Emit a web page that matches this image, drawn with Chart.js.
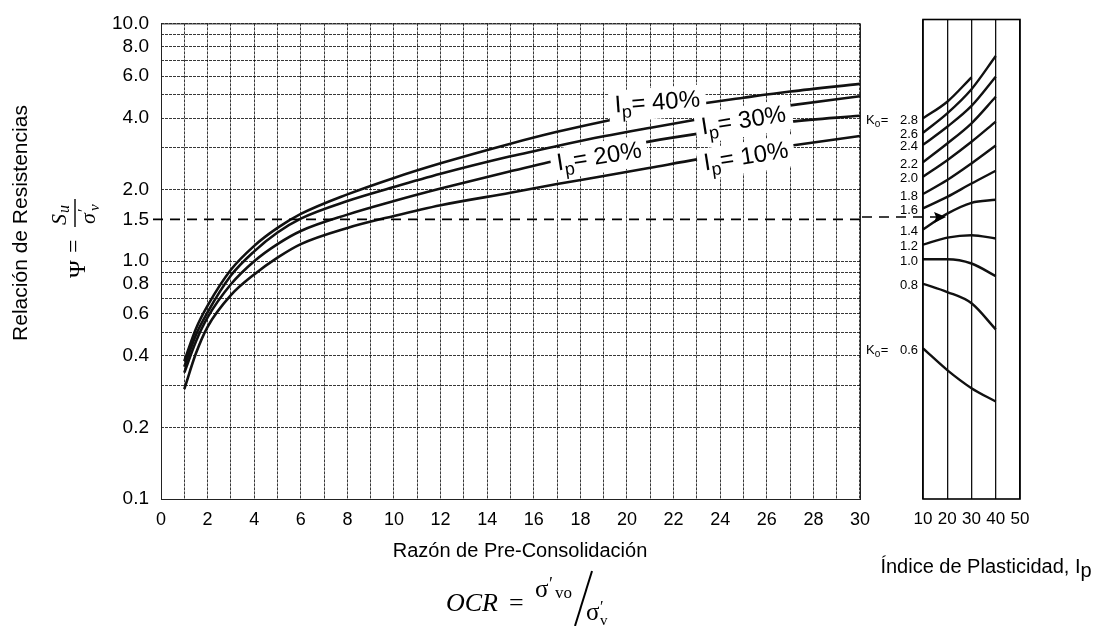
<!DOCTYPE html>
<html>
<head>
<meta charset="utf-8">
<title>Relación de Resistencias vs OCR</title>
<script src="https://cdn.jsdelivr.net/npm/chart.js@4.4.1/dist/chart.umd.min.js"></script>
<style>
  html, body { margin: 0; padding: 0; background: #fff; }
  #wrap { position: relative; width: 1109px; height: 626px; overflow: hidden; }
  #main { position: absolute; left: 0; top: 0; }
  #side { position: absolute; left: 862px; top: 0; }
</style>
</head>
<body>
<div id="wrap">
  <canvas id="main" width="880" height="626" style="width:880px;height:626px"></canvas>
  <canvas id="side" width="247" height="626" style="width:247px;height:626px"></canvas>
</div>
<script>
// --- main panel: Su/σ'v against OCR for four plasticity indices
const ocr = [1, 1.5, 2, 3, 4, 5, 6, 8, 10, 12, 15, 17, 19, 21, 23, 25, 27, 30];
const psiIp40 = [0.38, 0.52, 0.65, 0.92, 1.16, 1.38, 1.58, 1.91, 2.24, 2.58, 3.12, 3.50, 3.87, 4.24, 4.57, 4.87, 5.17, 5.57];
const psiIp30 = [0.36, 0.49, 0.61, 0.87, 1.10, 1.32, 1.51, 1.79, 2.05, 2.33, 2.76, 3.05, 3.35, 3.64, 3.94, 4.23, 4.52, 4.94];
const psiIp20 = [0.34, 0.46, 0.58, 0.80, 1.00, 1.18, 1.34, 1.57, 1.79, 2.02, 2.39, 2.66, 2.93, 3.19, 3.43, 3.66, 3.86, 4.09];
const psiIp10 = [0.29, 0.41, 0.53, 0.72, 0.88, 1.035, 1.18, 1.38, 1.55, 1.72, 1.94, 2.11, 2.28, 2.47, 2.68, 2.87, 3.06, 3.36];
const ipCurveNames = ['= 40%', '= 30%', '= 20%', '= 10%'];

const xTickLabels = [0, 2, 4, 6, 8, 10, 12, 14, 16, 18, 20, 22, 24, 26, 28, 30];
const yGridValues = [0.1, 0.2, 0.3, 0.4, 0.5, 0.6, 0.7, 0.8, 0.9, 1, 1.5, 2, 3, 4, 5, 6, 7, 8, 9, 10];
const yLabelValues = [0.1, 0.2, 0.4, 0.6, 0.8, 1, 1.5, 2, 4, 6, 8, 10];

// reference example (dashed line + arrow)
const refPsi = 1.5;
const refIp = 19.5;

// --- side panel: Ko curves against plasticity index
const ipValues = [10, 20, 30, 40];
const ko28 = [3.87, 4.54, 5.74];
const ko26 = [3.37, 4.06, 5.12, 7.04];
const ko24 = [3.00, 3.57, 4.36, 5.77];
const ko22 = [2.54, 3.04, 3.69, 4.76];
const ko20 = [2.21, 2.59, 3.09, 3.75];
const ko18 = [1.87, 2.14, 2.51, 2.98];
const ko16 = [1.63, 1.82, 2.07, 2.34];
const ko14 = [1.33, 1.55, 1.72, 1.77];
const ko12 = [1.15, 1.23, 1.26, 1.22];
const ko10 = [1.00, 1.00, 0.96, 0.85];
const ko08 = [0.79, 0.73, 0.655, 0.51];
const ko06 = [0.425, 0.345, 0.29, 0.255];
const koLabels = ['2.8', '2.6', '2.4', '2.2', '2.0', '1.8', '1.6', '1.4', '1.2', '1.0', '0.8', '0.6'];
const ipTickLabels = [10, 20, 30, 40, 50];

const SANS = '"Liberation Sans", Arial, sans-serif';
const SERIF = '"Liberation Serif", "DejaVu Serif", serif';

// where the "Ip = xx%" tags sit on their curves (data coords) and their tilt
const tagPlace = [
  { x: 21.3, y: 4.69, deg: -4 },
  { x: 25.0, y: 3.93, deg: -9 },
  { x: 18.8, y: 2.77, deg: -9 },
  { x: 25.1, y: 2.77, deg: -9 }
];

const curveStyle = {
  borderColor: '#111',
  borderWidth: 2.6,
  pointRadius: 0,
  fill: false,
  cubicInterpolationMode: 'monotone'
};

function drawIpTag(ctx, px, py, deg, rest) {
  ctx.save();
  ctx.translate(px, py);
  ctx.rotate(deg * Math.PI / 180);
  const big = '24px ' + SANS, small = '18px ' + SANS;
  ctx.font = big;
  const wI = ctx.measureText('I').width;
  const wRest = ctx.measureText(rest).width;
  ctx.font = small;
  const wp = ctx.measureText('p').width;
  const w = wI + wp + wRest;
  ctx.fillStyle = '#fff';
  ctx.fillRect(-w / 2 - 6, -14, w + 12, 31);
  ctx.fillStyle = '#000';
  ctx.textAlign = 'left';
  ctx.textBaseline = 'alphabetic';
  let cx = -w / 2;
  ctx.font = big; ctx.fillText('I', cx, 8); cx += wI;
  ctx.font = small; ctx.fillText('p', cx, 14); cx += wp;
  ctx.font = big; ctx.fillText(rest, cx, 8);
  ctx.restore();
}

const mainDecor = {
  id: 'mainDecor',
  afterDatasetsDraw(chart) {
    const { ctx, chartArea: a, scales: { x, y } } = chart;
    ctx.save();
    ctx.strokeStyle = '#222';
    ctx.lineWidth = 1;
    ctx.strokeRect(a.left + 0.5, a.top + 0.5, a.right - a.left, a.bottom - a.top);

    const yy = y.getPixelForValue(refPsi);
    ctx.strokeStyle = '#000';
    ctx.lineWidth = 1.6;
    ctx.setLineDash([10, 7]);
    ctx.beginPath();
    ctx.moveTo(a.left - 8, yy);
    ctx.lineTo(a.right, yy);
    ctx.stroke();
    ctx.setLineDash([]);

    tagPlace.forEach((t, i) => {
      drawIpTag(ctx, x.getPixelForValue(t.x), y.getPixelForValue(t.y), t.deg, ipCurveNames[i]);
    });
    ctx.restore();
  },
  afterDraw(chart) {
    const { ctx } = chart;
    ctx.save();
    ctx.fillStyle = '#000';

    // y title
    ctx.save();
    ctx.translate(21, 223);
    ctx.rotate(-Math.PI / 2);
    ctx.font = '21px ' + SANS;
    ctx.textAlign = 'center';
    ctx.textBaseline = 'middle';
    ctx.fillText('Relación de Resistencias', 0, 0);
    ctx.restore();

    // Ψ = Su / σ'v (rotated)
    ctx.save();
    ctx.translate(75, 240);
    ctx.rotate(-Math.PI / 2);
    ctx.textAlign = 'left';
    ctx.textBaseline = 'alphabetic';
    ctx.font = '24px ' + SERIF;
    ctx.fillText('Ψ', -38, 10);
    ctx.fillText('=', -13, 6);
    ctx.fillRect(13, -0.7, 28, 1.4);
    ctx.font = 'italic 22px ' + SERIF;
    ctx.fillText('S', 15, -9);
    ctx.font = 'italic 16px ' + SERIF;
    ctx.fillText('u', 27, -6);
    ctx.font = 'italic 22px ' + SERIF;
    ctx.fillText('σ', 16, 20);
    ctx.font = '16px ' + SERIF;
    ctx.fillText('′', 28, 14);
    ctx.font = 'italic 15px ' + SERIF;
    ctx.fillText('v', 29, 24);
    ctx.restore();

    // x title
    ctx.font = '20px ' + SANS;
    ctx.textAlign = 'center';
    ctx.textBaseline = 'middle';
    ctx.fillText('Razón de Pre-Consolidación', 520, 551);

    // OCR = σ'vo / σ'v
    const ox = 446;
    ctx.textAlign = 'left';
    ctx.textBaseline = 'alphabetic';
    ctx.font = 'italic 26px ' + SERIF;
    ctx.fillText('OCR', ox, 611);
    ctx.font = '26px ' + SERIF;
    ctx.fillText('=', ox + 63, 611);
    ctx.font = '25px ' + SERIF;
    ctx.fillText('σ', ox + 89, 597);
    ctx.font = '18px ' + SERIF;
    ctx.fillText('′', ox + 103, 590);
    ctx.font = '17px ' + SERIF;
    ctx.fillText('vo', ox + 109, 598);
    ctx.lineWidth = 2;
    ctx.beginPath();
    ctx.moveTo(ox + 146, 571);
    ctx.lineTo(ox + 129, 626);
    ctx.stroke();
    ctx.font = '25px ' + SERIF;
    ctx.fillText('σ', ox + 140, 620);
    ctx.font = '16px ' + SERIF;
    ctx.fillText('′', ox + 154, 612);
    ctx.font = '15px ' + SERIF;
    ctx.fillText('v', ox + 154, 625);
    ctx.restore();
  }
};

new Chart(document.getElementById('main'), {
  type: 'line',
  data: {
    datasets: [psiIp40, psiIp30, psiIp20, psiIp10].map(arr => ({
      ...curveStyle,
      data: ocr.map((v, i) => ({ x: v, y: arr[i] }))
    }))
  },
  options: {
    responsive: false,
    animation: false,
    layout: { padding: { top: 19.5, right: 19, left: 0, bottom: 0 } },
    plugins: { legend: { display: false }, tooltip: { enabled: false } },
    scales: {
      x: {
        type: 'linear',
        min: 0,
        max: 30,
        ticks: {
          stepSize: 1,
          autoSkip: false,
          maxRotation: 0,
          padding: 10,
          color: '#000',
          font: { family: SANS, size: 18 },
          callback: v => (xTickLabels.includes(v) ? String(v) : '')
        },
        grid: { color: 'rgba(0,0,0,0.78)', lineWidth: 1, drawTicks: false },
        border: { display: false, dash: [3, 1] },
        afterFit: s => { s.height = 127; }
      },
      y: {
        type: 'logarithmic',
        min: 0.1,
        max: 10,
        afterBuildTicks: s => { s.ticks = yGridValues.map(v => ({ value: v })); },
        ticks: {
          autoSkip: false,
          padding: 12,
          color: '#000',
          font: { family: SANS, size: 19 },
          callback: v => (yLabelValues.includes(v) ? v.toFixed(1) : '')
        },
        grid: {
          color: c => (c.tick && c.tick.value === refPsi ? 'rgba(0,0,0,0)' : 'rgba(0,0,0,0.78)'),
          lineWidth: 1,
          drawTicks: false
        },
        border: { display: false, dash: [3, 1] },
        afterFit: s => { s.width = 161; }
      }
    }
  },
  plugins: [mainDecor]
});

// --- side panel
const koSeries = [ko28, ko26, ko24, ko22, ko20, ko18, ko16, ko14, ko12, ko10, ko08, ko06];

function drawKoEq(ctx, px, py) {
  ctx.textAlign = 'left';
  ctx.textBaseline = 'middle';
  ctx.font = '13px ' + SANS;
  ctx.fillText('K', px, py);
  const wK = ctx.measureText('K').width;
  ctx.font = '10px ' + SANS;
  ctx.fillText('o', px + wK, py + 4);
  ctx.font = '13px ' + SANS;
  ctx.fillText('=', px + wK + 6, py);
}

const sideDecor = {
  id: 'sideDecor',
  afterDatasetsDraw(chart) {
    const { ctx, chartArea: a, scales: { x, y } } = chart;
    ctx.save();
    ctx.strokeStyle = '#000';
    ctx.lineWidth = 1.6;
    ctx.strokeRect(a.left, a.top, a.right - a.left, a.bottom - a.top);

    // dashed reference line coming from the main panel, with arrow
    const yy = y.getPixelForValue(refPsi);
    const tip = x.getPixelForValue(refIp);
    ctx.lineWidth = 1.6;
    ctx.setLineDash([10, 7]);
    ctx.beginPath();
    ctx.moveTo(0, yy);
    ctx.lineTo(tip - 8, yy);
    ctx.stroke();
    ctx.setLineDash([]);
    ctx.fillStyle = '#000';
    ctx.beginPath();
    ctx.moveTo(tip, yy);
    ctx.lineTo(tip - 12, yy - 5);
    ctx.lineTo(tip - 10, yy);
    ctx.lineTo(tip - 12, yy + 6);
    ctx.closePath();
    ctx.fill();

    // Ko labels
    const x0 = x.getPixelForValue(ipValues[0]);
    ctx.font = '13px ' + SANS;
    ctx.textAlign = 'right';
    ctx.textBaseline = 'middle';
    koLabels.forEach((lab, i) => {
      ctx.fillText(lab, x0 - 5, y.getPixelForValue(koSeries[i][0]) + 2);
    });
    drawKoEq(ctx, 4, y.getPixelForValue(koSeries[0][0]) + 2);
    drawKoEq(ctx, 4, y.getPixelForValue(koSeries[koSeries.length - 1][0]) + 2);
    ctx.restore();
  },
  afterDraw(chart) {
    const { ctx } = chart;
    ctx.save();
    ctx.fillStyle = '#000';
    ctx.font = '20px ' + SANS;
    ctx.textBaseline = 'middle';
    ctx.textAlign = 'left';
    const main = 'Índice de Plasticidad, I';
    const w = ctx.measureText(main).width + ctx.measureText('p').width;
    const sx = 124 - w / 2;
    ctx.fillText(main, sx, 567);
    ctx.fillText('p', sx + ctx.measureText(main).width, 571);
    ctx.restore();
  }
};

new Chart(document.getElementById('side'), {
  type: 'line',
  data: {
    datasets: koSeries.map(arr => ({
      ...curveStyle,
      borderWidth: 2.4,
      data: arr.map((v, i) => ({ x: ipValues[i], y: v }))
    }))
  },
  options: {
    responsive: false,
    animation: false,
    layout: { padding: { top: 19.5, right: 89, left: 61, bottom: 0 } },
    plugins: { legend: { display: false }, tooltip: { enabled: false } },
    scales: {
      x: {
        type: 'linear',
        min: 10,
        max: 50,
        afterBuildTicks: s => { s.ticks = ipTickLabels.map(v => ({ value: v })); },
        ticks: {
          autoSkip: false,
          maxRotation: 0,
          padding: 10,
          color: '#000',
          font: { family: SANS, size: 17 }
        },
        grid: { color: '#111', lineWidth: 1.3, drawTicks: false },
        border: { display: false },
        afterFit: s => { s.height = 127; }
      },
      y: {
        type: 'logarithmic',
        min: 0.1,
        max: 10,
        display: false
      }
    }
  },
  plugins: [sideDecor]
});
</script>
</body>
</html>
